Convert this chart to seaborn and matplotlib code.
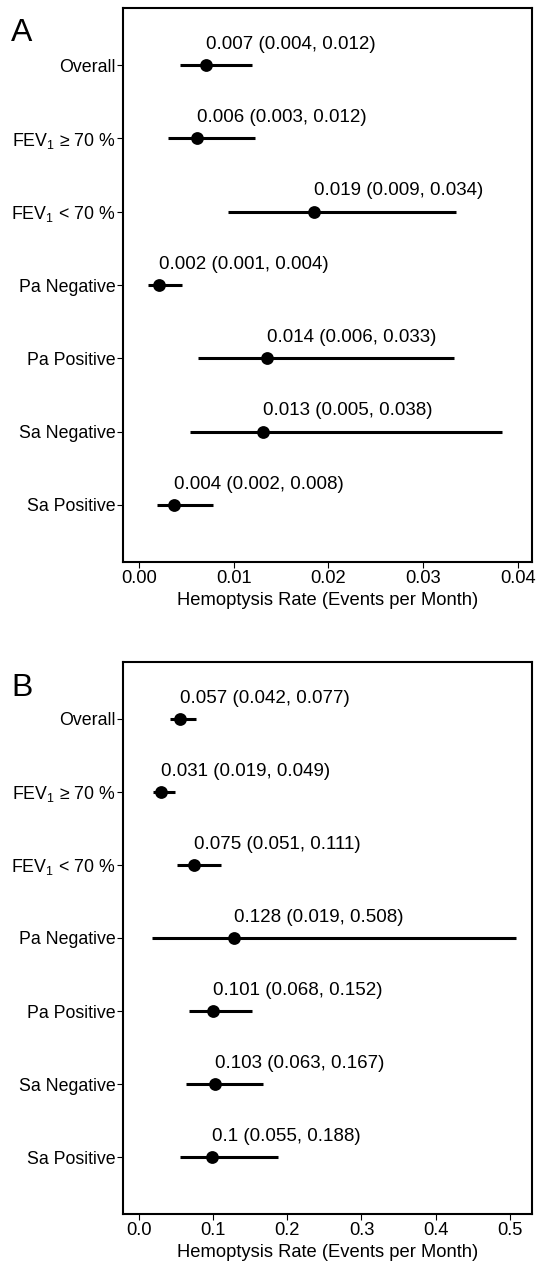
import numpy as np
import pandas as pd
import matplotlib
matplotlib.use("Agg")
import matplotlib.pyplot as plt
import seaborn as sns

# groups shown top to bottom in both panels
groups = ["Overall", "FEV$_1$ \u2265 70 %", "FEV$_1$ < 70 %", "Pa Negative",
          "Pa Positive", "Sa Negative", "Sa Positive"]

# panel A: rate with 95% CI
rate_a = [0.0071, 0.0061, 0.0185, 0.0021, 0.0135, 0.0131, 0.0037]
low_a = [0.0043, 0.0031, 0.0094, 0.0010, 0.0062, 0.0054, 0.0019]
high_a = [0.0119, 0.0123, 0.0335, 0.0045, 0.0333, 0.0383, 0.0078]
text_a = ["0.007 (0.004, 0.012)", "0.006 (0.003, 0.012)", "0.019 (0.009, 0.034)",
          "0.002 (0.001, 0.004)", "0.014 (0.006, 0.033)", "0.013 (0.005, 0.038)",
          "0.004 (0.002, 0.008)"]
ticks_a = [0.00, 0.01, 0.02, 0.03, 0.04]
ticklab_a = ["0.00", "0.01", "0.02", "0.03", "0.04"]

# panel B
rate_b = [0.055, 0.030, 0.074, 0.128, 0.100, 0.103, 0.099]
low_b = [0.042, 0.019, 0.051, 0.018, 0.068, 0.063, 0.055]
high_b = [0.077, 0.049, 0.111, 0.509, 0.152, 0.167, 0.188]
text_b = ["0.057 (0.042, 0.077)", "0.031 (0.019, 0.049)", "0.075 (0.051, 0.111)",
          "0.128 (0.019, 0.508)", "0.101 (0.068, 0.152)", "0.103 (0.063, 0.167)",
          "0.1 (0.055, 0.188)"]
ticks_b = [0.0, 0.1, 0.2, 0.3, 0.4, 0.5]
ticklab_b = ["0.0", "0.1", "0.2", "0.3", "0.4", "0.5"]

sns.set_style("ticks")
plt.rcParams["font.family"] = ["Liberation Sans", "DejaVu Sans"]
plt.rcParams["mathtext.fontset"] = "custom"
plt.rcParams["mathtext.rm"] = "Liberation Sans"
plt.rcParams["mathtext.it"] = "Liberation Sans:italic"
# plain black text like the original
for key in ["text.color", "axes.labelcolor", "xtick.color", "ytick.color"]:
    plt.rcParams[key] = "black"

fig = plt.figure(figsize=(5.38, 12.75), dpi=100)
ax_a = fig.add_axes([123 / 538, 1 - 562 / 1275, 409 / 538, 554 / 1275])
ax_b = fig.add_axes([123 / 538, 1 - 1214 / 1275, 409 / 538, 552 / 1275])


def forest(ax, rate, low, high, text, ticks, ticklab, xlim, letter):
    df = pd.DataFrame({"pos": np.arange(len(groups)), "rate": rate,
                       "low": low, "high": high, "text": text})
    ax.hlines(df["pos"], df["low"], df["high"], color="black", linewidth=2.2)
    sns.scatterplot(data=df, x="rate", y="pos", ax=ax, color="black",
                    s=85, edgecolor="black", linewidth=0, zorder=3)
    for _, r in df.iterrows():
        ax.annotate(r["text"], (r["rate"], r["pos"]), xytext=(0, 15),
                    textcoords="offset points", ha="left", va="center",
                    fontsize=13.5, color="black")
    ax.set_xlim(*xlim)
    ax.set_ylim(6.78, -0.78)
    ax.set_yticks(df["pos"])
    ax.set_yticklabels(groups, fontsize=12.8)
    ax.set_xticks(ticks)
    ax.set_xticklabels(ticklab, fontsize=13.2)
    ax.tick_params(axis="both", length=4, width=0.8, pad=1.5, color="black",
                   labelcolor="black")
    ax.set_xlabel("Hemoptysis Rate (Events per Month)", fontsize=13.2,
                  labelpad=4, color="black")
    ax.set_ylabel("")
    for sp in ax.spines.values():
        sp.set_visible(True)
        sp.set_color("black")
        sp.set_linewidth(1.5)
    fig.text(11 / 538, 1 - (33 if letter == "A" else 688) / 1275, letter,
             fontsize=23, ha="left", va="center", color="black")


forest(ax_a, rate_a, low_a, high_a, text_a, ticks_a, ticklab_a,
       (-0.00169, 0.0415), "A")
forest(ax_b, rate_b, low_b, high_b, text_b, ticks_b, ticklab_b,
       (-0.0216, 0.53), "B")

fig.savefig("out.png", dpi=100)
